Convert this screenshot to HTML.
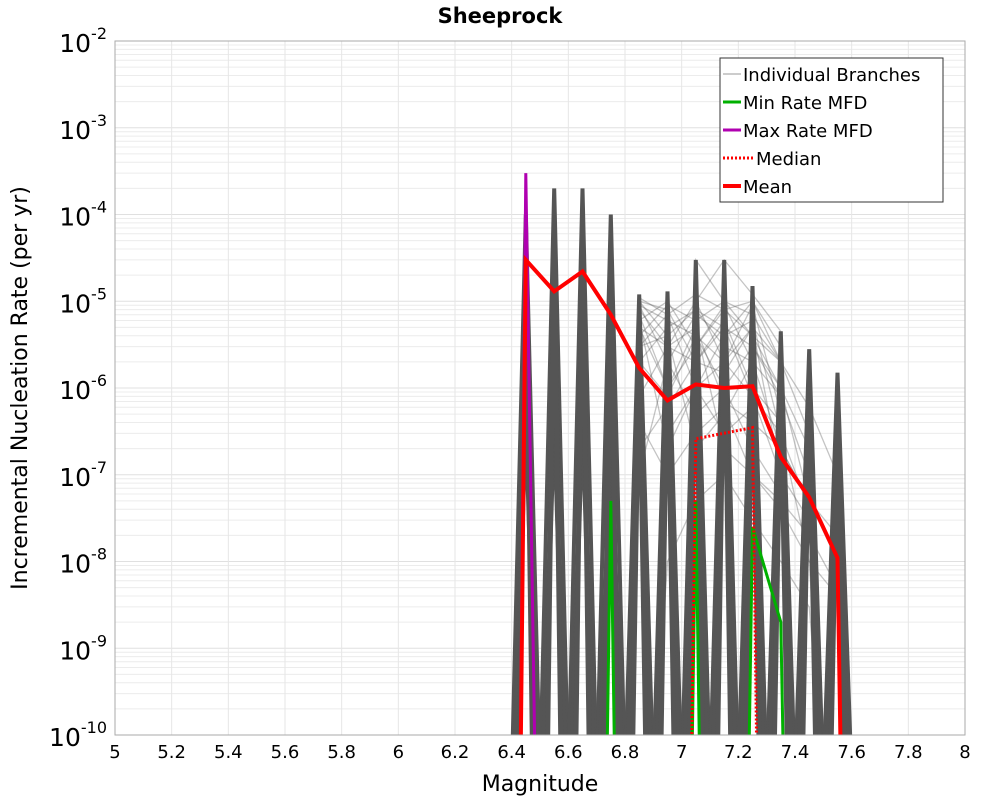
<!DOCTYPE html>
<html><head><meta charset="utf-8"><style>
html,body{margin:0;background:#fff;overflow:hidden;width:1000px;height:800px;}
svg{display:block;font-family:"DejaVu Sans","Liberation Sans",sans-serif;}
</style></head><body>
<svg width="1000" height="800" viewBox="0 0 1000 800" xmlns="http://www.w3.org/2000/svg">
<text x="500" y="23" text-anchor="middle" font-size="21" font-weight="bold">Sheeprock</text>
<g id="grid"></g>
<defs><clipPath id="clip"><rect x="115" y="41" width="850" height="694"/></clipPath></defs>
<g id="series" clip-path="url(#clip)"></g>
<rect x="115" y="41" width="850" height="694" fill="none" stroke="#aaa" stroke-width="1"/>
<g id="axes"></g>
<text x="540" y="791" text-anchor="middle" font-size="22">Magnitude</text>
<text transform="translate(27,388) rotate(-90)" text-anchor="middle" font-size="22">Incremental Nucleation Rate (per yr)</text>
<g>
<rect x="720" y="58" width="223" height="144" fill="#fff" stroke="#333" stroke-width="1"/>
<g><line x1="723" y1="74" x2="741" y2="74" stroke="#bbb" stroke-width="1.5"/><text x="743" y="81" font-size="18">Individual Branches</text></g>
<g><line x1="723" y1="102" x2="741" y2="102" stroke="#00b000" stroke-width="3"/><text x="743" y="109" font-size="18">Min Rate MFD</text></g>
<g><line x1="723" y1="130" x2="741" y2="130" stroke="#b000b0" stroke-width="3"/><text x="743" y="137" font-size="18">Max Rate MFD</text></g>
<g><line x1="723" y1="158" x2="753" y2="158" stroke="#f00" stroke-width="3" stroke-dasharray="2,2"/><text x="756" y="165" font-size="18">Median</text></g>
<g><line x1="723" y1="186" x2="741" y2="186" stroke="#f00" stroke-width="4"/><text x="743" y="193" font-size="18">Mean</text></g>
</g>
</svg>
<script>
const bins=[6.45,6.55,6.65,6.75,6.85,6.95,7.05,7.15,7.25,7.35,7.45,7.55];
const xTicks=[5,5.2,5.4,5.6,5.8,6,6.2,6.4,6.6,6.8,7,7.2,7.4,7.6,7.8,8];
const xTickLabels=["5","5.2","5.4","5.6","5.8","6","6.2","6.4","6.6","6.8","7","7.2","7.4","7.6","7.8","8"];
const yExps=[-2,-3,-4,-5,-6,-7,-8,-9,-10];
const meanVals=[3e-5,1.3e-5,2.2e-5,7e-6,1.7e-6,7.2e-7,1.1e-6,1e-6,1.05e-6,1.6e-7,5.5e-8,1.1e-8];
const medianM=[7.02,7.05,7.25,7.28];
const medianVals=[1e-14,2.6e-7,3.5e-7,1e-14];
const minM=[6.72,6.75,6.78,7.02,7.05,7.08,7.22,7.25,7.35,7.38];
const minVals=[1e-14,5e-8,1e-14,1e-14,5e-8,1e-14,1e-14,2.5e-8,2e-9,1e-14];
const maxM=[6.42,6.45,6.5];
const maxVals=[1e-14,3e-4,1e-14];
const spikePeaks=[1e-4,2e-4,2e-4,1e-4,1.2e-5,1.3e-5,3e-5,3e-5,1.5e-5,4.5e-6,2.8e-6,1.5e-6];
const spikeLow=[6e-7,6e-7,6e-7,3e-7,2e-6,2e-6,4e-6,3e-6,3e-6,4e-7,1e-7,5e-8];
const branches=[
[0,0,0,0,8e-6,3e-6,1e-5,2e-6,5e-6,1e-7,0,0],
[0,0,0,0,1e-5,8e-6,2e-6,6e-6,1e-6,4e-7,0,0],
[0,0,0,0,2e-6,5e-6,8e-6,3e-6,2e-6,0,0,0],
[0,0,0,0,5e-6,1e-6,3e-6,8e-6,4e-6,1e-6,5e-8,0],
[0,0,0,0,1e-7,2e-6,5e-7,1e-6,3e-6,8e-7,1e-7,0],
[0,0,0,0,3e-6,4e-6,2e-7,5e-7,2e-6,2e-7,5e-8,2e-8],
[0,0,0,0,6e-6,2e-7,1e-6,3e-7,6e-7,0,0,0],
[0,0,0,0,0,1e-8,5e-8,1e-7,3e-8,1e-8,3e-9,0],
[0,0,0,0,0,0,3e-5,1e-5,4e-6,2e-6,0,0],
[0,0,0,0,0,0,1e-5,3e-5,1.2e-5,4.5e-6,0,0],
[0,0,0,0,9e-6,6e-6,4e-6,2e-6,8e-7,3e-7,4e-8,0],
[0,0,0,0,4e-6,9e-6,6e-6,1e-5,7e-6,2e-6,3e-7,0],
[0,0,0,0,0,3e-7,1e-6,4e-6,1e-5,3e-6,0,0],
[0,0,0,0,7e-6,1e-6,5e-6,2e-7,1e-7,5e-8,2e-8,5e-9],
[0,0,0,0,1e-5,4e-6,8e-6,5e-6,3e-6,1e-6,2e-7,0],
[0,0,0,0,3e-6,7e-6,1e-6,2e-6,9e-6,5e-7,0,0],
[0,0,0,0,8e-7,3e-6,5e-6,7e-7,4e-7,2e-7,5e-8,1e-8],
[0,0,0,0,6e-6,1e-5,3e-6,9e-6,2e-6,8e-7,0,0],
[0,0,0,0,2e-7,6e-7,2e-6,1.5e-6,5e-6,2e-6,6e-7,1e-7],
[0,0,0,0,9e-6,2e-6,7e-6,4e-6,6e-6,3e-7,1e-8,0],
[0,0,0,0,4e-7,1e-7,3e-7,6e-7,1e-7,4e-8,1e-8,4e-9],
[0,0,0,0,1.1e-5,7e-6,1.2e-5,8e-6,1e-5,2e-6,0,0],
[0,0,0,0,5e-6,3e-6,2e-6,5e-6,8e-7,1e-7,3e-8,0],
[0,0,0,0,2e-6,8e-7,4e-6,1e-6,2e-7,6e-8,0,0]
];
const NS="http://www.w3.org/2000/svg";
const X0=115,X1=965,Y0=41,Y1=735;
function xs(m){return X0+(m-5)/3*(X1-X0);}
function ys(v){const l=Math.log10(Math.max(v,1e-14));return Y0+(-2-l)/8*(Y1-Y0);}
function mk(tag,attrs,parent){const e=document.createElementNS(NS,tag);for(const k in attrs)e.setAttribute(k,attrs[k]);parent.appendChild(e);return e;}
const grid=document.getElementById('grid'),axes=document.getElementById('axes'),ser=document.getElementById('series');
for(let e=-10;e<-2;e++){for(let k=1;k<10;k++){const y=ys(k*Math.pow(10,e));
const l=mk('line',{x1:X0,x2:X1,y1:y,y2:y,stroke:k==1?'#e0e0e0':'#ececec','stroke-width':1},grid);

}}
xTicks.forEach((t,i)=>{const x=xs(t);
const l=mk('line',{x1:x,x2:x,y1:Y0,y2:Y1,stroke:'#e6e6e6','stroke-width':1},grid);


const tx=mk('text',{x:x,y:758,'text-anchor':'middle','font-size':18},axes);tx.textContent=xTickLabels[i];

});
yExps.forEach(e=>{const y=ys(Math.pow(10,e));
const tx=mk('text',{x:107,y:y+11,'text-anchor':'end','font-size':25},axes);


tx.appendChild(document.createTextNode('10'));
const s=mk('tspan',{dy:-13,'font-size':16},tx);s.textContent=String(e);});
function poly(ms,vs,attrs,name){const pts=ms.map((m,i)=>xs(m).toFixed(1)+','+ys(vs[i]).toFixed(1)).join(' ');
const p=mk('polyline',Object.assign({points:pts,fill:'none','stroke-linejoin':'miter'},attrs),ser);

}
function withEnds(vals){const ms=[],vs=[];vals.forEach((v,i)=>{if(v>0){if(i==0||!(vals[i-1]>0)){ms.push(bins[i]-0.05);vs.push(3e-11);}ms.push(bins[i]);vs.push(v);if(i==vals.length-1||!(vals[i+1]>0)){ms.push(bins[i]+0.05);vs.push(3e-11);}}});return [ms,vs];}
branches.forEach(b=>{const [ms,vs]=withEnds(b);poly(ms,vs,{stroke:'rgba(85,85,85,0.35)','stroke-width':1.3},'branch-line');});
bins.forEach((m,i)=>{
poly([m-0.05,m,m+0.05],[3e-11,spikePeaks[i],3e-11],{stroke:'#555','stroke-width':4},'branch-spike');
poly([m-0.04,m,m+0.04],[3e-11,spikeLow[i],3e-11],{stroke:'#555','stroke-width':5},'branch-spike');
poly([m-0.025,m,m+0.025],[3e-11,spikePeaks[i]*0.3,3e-11],{stroke:'#555','stroke-width':5},'branch-spike');});
poly(maxM,maxVals,{stroke:'#b000b0','stroke-width':3},'max-rate-line');
poly(minM,minVals,{stroke:'#00b000','stroke-width':3},'min-rate-line');
poly(medianM,medianVals,{stroke:'#f00','stroke-width':3,'stroke-dasharray':'2,2'},'median-line');
(function(){const ms=[bins[0]-0.03].concat(bins,[bins[bins.length-1]+0.03]);const vs=[1e-14].concat(meanVals,[1e-14]);
poly(ms,vs,{stroke:'#f00','stroke-width':4},'mean-line');})();
</script>
</body></html>
